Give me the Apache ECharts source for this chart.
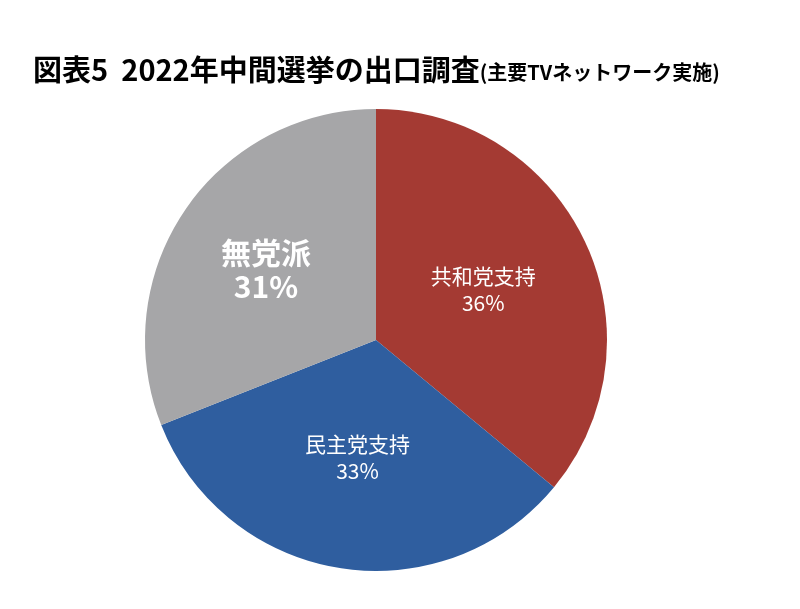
<!DOCTYPE html>
<html><head><meta charset="utf-8">
<script src="https://cdn.jsdelivr.net/npm/echarts@6/dist/echarts.min.js"></script>
<style>html,body{margin:0;background:#fff}#c{width:800px;height:609px}</style>
</head><body><div id="c"></div>
<script>
const categories = ['共和党支持', '民主党支持', '無党派'];
const values = [36, 33, 31];
const colors = ['#A43A33', '#2F5E9F', '#A6A6A8'];
const chart = echarts.init(document.getElementById('c'));
chart.setOption({
  animation: false,
  title: {
    text: '{a|図表5  2022年中間選挙の出口調査}{b|(主要TVネットワーク実施)}',
    left: 28, top: 50,
    textStyle: { rich: {
      a: { fontSize: 29, fontWeight: 'bold', color: '#000', fontFamily: 'Noto Sans CJK JP' },
      b: { fontSize: 20, fontWeight: 'bold', color: '#000', fontFamily: 'Noto Sans CJK JP', padding: [5,0,0,0] }
    } }
  },
  series: [{
    type: 'pie', center: [376, 340], radius: 231, startAngle: 90, clockwise: true,
    label: { position: 'inner', color: '#fff', fontSize: 21, lineHeight: 27,
      fontFamily: 'Noto Sans CJK JP', formatter: p => p.name + '\n' + p.value + '%' },
    itemStyle: { borderColor: '#fff', borderWidth: 0 },
    emphasis: { disabled: true },
    data: categories.map((n, i) => ({
      name: n, value: values[i], itemStyle: { color: colors[i] },
      label: i === 2 ? { fontSize: 30, fontWeight: 'bold', lineHeight: 34, offset: [-12, -4] } : {}
    }))
  }]
});
</script></body></html>
